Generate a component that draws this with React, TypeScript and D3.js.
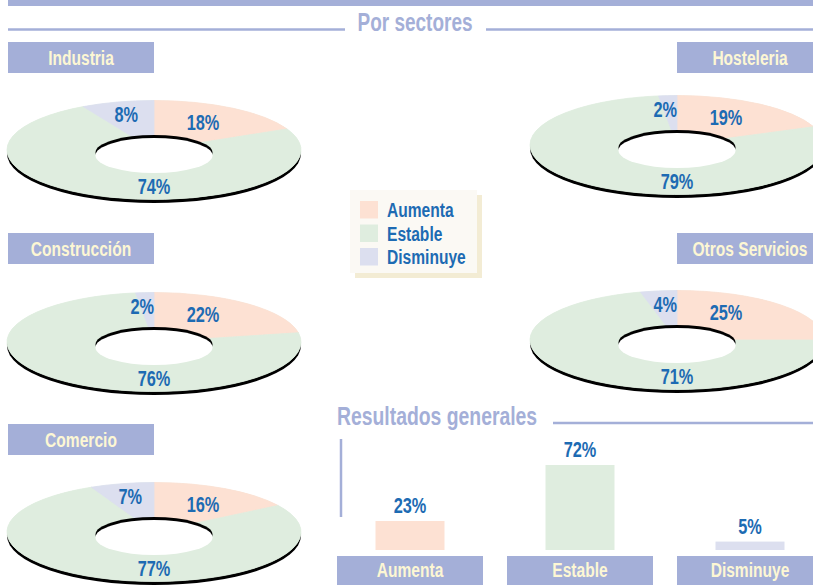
import React from "react";
import * as d3 from "d3";

// ---------- data ----------
const sectors = ["Industria", "Hosteleria", "Construcción", "Otros Servicios", "Comercio"];
const aumenta = [18, 19, 22, 25, 16];
const estable = [74, 79, 76, 71, 77];
const disminuye = [8, 2, 2, 4, 7];
const categories = ["Aumenta", "Estable", "Disminuye"];
const generales = [23, 72, 5];

// ---------- layout / style ----------
const W = 813;
const H = 585;
const FONT = "'Liberation Sans', Arial, sans-serif";
const NARROW = 0.76;
const HEAD = "#a4afd8";
const CREAM = "#fdf7d4";
const BLUE = "#1d6bb3";
const COLORS = ["#fde1d3", "#dfeddf", "#dcdfef"];
const BOX_W = 146;
const BOX_H = 31;
const RX = 147;
const RY = 49.5;
const IRX = 58.5;
const IRY = 17.5;

// panel positions: header box (bx, by), donut centre (cx, cy)
const panels = [
  { bx: 8, by: 42, cx: 154, cy: 150 },
  { bx: 677, by: 42, cx: 677, cy: 145 },
  { bx: 8, by: 233, cx: 154, cy: 342 },
  { bx: 677, by: 233, cx: 677, cy: 340 },
  { bx: 8, by: 424, cx: 154, cy: 532 },
];

const pie = d3.pie<number>().sort(null).value((d) => d);
const arc = d3.arc<d3.PieArcDatum<number>>().innerRadius(0).outerRadius(RX);

function NText({
  x,
  y,
  anchor = "start",
  size,
  fill,
  children,
}: {
  x: number;
  y: number;
  anchor?: "start" | "middle" | "end";
  size: number;
  fill: string;
  children: React.ReactNode;
}) {
  return (
    <text
      transform={`translate(${x},${y}) scale(${NARROW},1)`}
      textAnchor={anchor}
      style={{ fontFamily: FONT, fontWeight: 700, fontSize: size, fill }}
    >
      {children}
    </text>
  );
}

function Donut({ i }: { i: number }) {
  const p = panels[i];
  const vals = [aumenta[i], estable[i], disminuye[i]];
  const arcs = pie(vals);
  const dEnd = p.cx - 4 * Math.max(0, disminuye[i] - 4);
  return (
    <g>
      <rect x={p.bx} y={p.by} width={BOX_W} height={BOX_H} fill={HEAD} />
      <NText x={p.bx + BOX_W / 2} y={p.by + 23} anchor="middle" size={20.5} fill={CREAM}>
        {sectors[i]}
      </NText>
      <ellipse cx={p.cx} cy={p.cy + 3.5} rx={RX} ry={RY} fill="#000" />
      <ellipse cx={p.cx} cy={p.cy} rx={RX} ry={RY} fill={COLORS[1]} />
      <g transform={`translate(${p.cx},${p.cy}) scale(1,${RY / RX})`}>
        {arcs.map((a, k) => (
          <path
            key={k}
            d={arc(a) || ""}
            fill={COLORS[k]}
            stroke={COLORS[k]}
            strokeWidth={0.8}
            vectorEffect="non-scaling-stroke"
          />
        ))}
      </g>
      <ellipse cx={p.cx} cy={p.cy + 2.5} rx={IRX} ry={IRY} fill="#000" />
      <ellipse cx={p.cx} cy={p.cy + 5.5} rx={IRX} ry={IRY} fill="#fff" />
      <NText x={p.cx + 49} y={p.cy - 20.5} anchor="middle" size={21.5} fill={BLUE}>
        {aumenta[i]}%
      </NText>
      <NText x={p.cx} y={p.cy + 43.5} anchor="middle" size={21.5} fill={BLUE}>
        {estable[i]}%
      </NText>
      <NText x={dEnd} y={p.cy - 28.5} anchor="end" size={21.5} fill={BLUE}>
        {disminuye[i]}%
      </NText>
    </g>
  );
}

export default function App() {
  const x = d3
    .scaleBand<string>()
    .domain(categories)
    .range([325, 835])
    .paddingInner(24 / 170)
    .paddingOuter(12 / 170);
  const y = d3.scaleLinear().domain([0, 100]).range([547.3, 433]);
  const barBottom = 550;
  const barW = 69;
  const legY = [201, 224.5, 248];
  const legBase = [217, 240.5, 264];

  return (
    <div style={{ position: "absolute", left: 0, top: 0, width: W, height: H, overflow: "hidden" }}>
      <svg width={W} height={H} style={{ display: "block", background: "#fff" }}>
        {/* top bar */}
        <rect x={8} y={0} width={W - 8} height={6} fill={HEAD} />
        {/* title Por sectores */}
        <line x1={8} x2={345} y1={29.5} y2={29.5} stroke={HEAD} strokeWidth={2.5} />
        <line x1={486} x2={W} y1={29.5} y2={29.5} stroke={HEAD} strokeWidth={2.5} />
        <NText x={415} y={31} anchor="middle" size={25} fill={HEAD}>
          Por sectores
        </NText>

        {panels.map((_, i) => (
          <Donut key={i} i={i} />
        ))}

        {/* legend */}
        <rect x={355} y={195} width={127} height={83} fill="#f3ecd4" />
        <rect x={350} y={190} width={127} height={83} fill="#fbf9f4" />
        {categories.map((c, k) => (
          <g key={c}>
            <rect x={360} y={legY[k]} width={18} height={17.5} fill={COLORS[k]} />
            <NText x={387} y={legBase[k]} size={20.5} fill={BLUE}>
              {c}
            </NText>
          </g>
        ))}

        {/* Resultados generales */}
        <NText x={337} y={425} size={25.5} fill={HEAD}>
          Resultados generales
        </NText>
        <line x1={553} x2={W} y1={423} y2={423} stroke={HEAD} strokeWidth={2.5} />
        <line x1={341} x2={341} y1={439} y2={517} stroke={HEAD} strokeWidth={2.5} />
        {categories.map((c, k) => {
          const bx = (x(c) || 0) + x.bandwidth() / 2;
          const top = y(generales[k]);
          return (
            <g key={c}>
              <rect x={bx - barW / 2} y={top} width={barW} height={barBottom - top} fill={COLORS[k]} />
              <NText x={bx} y={top - 8} anchor="middle" size={21.5} fill={BLUE}>
                {generales[k]}%
              </NText>
              <rect x={x(c)} y={556} width={x.bandwidth()} height={BOX_H} fill={HEAD} />
              <NText x={bx} y={577} anchor="middle" size={20.5} fill={CREAM}>
                {c}
              </NText>
            </g>
          );
        })}
      </svg>
    </div>
  );
}
